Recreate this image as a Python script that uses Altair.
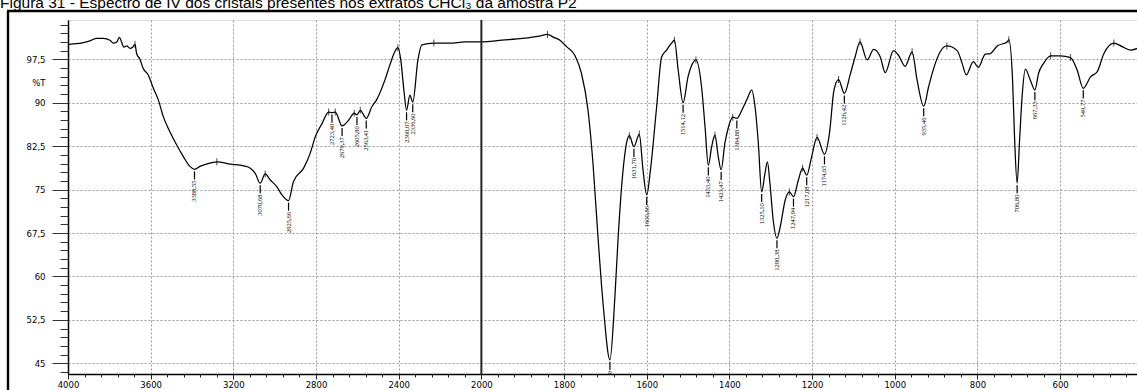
import altair as alt
import pandas as pd

# ---- spectrum (wavenumber cm-1, %T) ----
wavenumber = [
    3995, 3960, 3926, 3894, 3861, 3829, 3797, 3781, 3764, 3752, 3729, 3716, 3700, 3687, 3676,
    3668, 3652, 3636, 3612, 3587, 3563, 3539, 3507, 3474, 3442, 3410, 3388, 3362, 3330, 3280,
    3214, 3150, 3118, 3094, 3070, 3046, 3022, 2990, 2965, 2933, 2909, 2860, 2828, 2804, 2771,
    2739, 2723, 2707, 2674, 2642, 2615, 2602, 2586, 2557, 2530, 2507, 2467, 2443, 2419, 2404,
    2390, 2375, 2362, 2346, 2332, 2307, 2288, 2230, 2153, 2080, 2000,
    1950, 1900, 1860, 1840, 1825, 1810, 1794, 1774, 1758, 1742, 1730, 1718, 1705, 1689, 1677,
    1669, 1658, 1649, 1642, 1631, 1618, 1609, 1600, 1591, 1576, 1564, 1552, 1540, 1533, 1524,
    1512, 1500, 1491, 1481, 1467, 1459, 1451, 1443, 1435, 1427, 1420, 1411, 1403, 1392, 1382,
    1370, 1358, 1346, 1338, 1330, 1322, 1314, 1308, 1302, 1294, 1285, 1277, 1265, 1255, 1245,
    1233, 1223, 1213, 1201, 1188, 1170, 1158, 1147, 1136, 1122, 1108, 1096, 1084, 1067, 1051,
    1035, 1023, 1003, 991, 975, 958, 946, 930, 918, 906, 890, 874, 849, 837, 827,
    810, 798, 781, 769, 752, 728, 724, 715, 710, 704, 698, 692, 684, 672, 661,
    652, 640, 623, 599, 575, 559, 544, 526, 510, 494, 470, 450, 430, 413,
]
transmittance = [
    100.1, 100.2, 100.4, 100.7, 101.1, 101.1, 100.8, 100.3, 100.5, 101.3, 99.6, 99.8, 99.4, 99.6, 100.1,
    98.5, 97.5, 95.9, 94.8, 92.5, 90.5, 87.6, 85.0, 82.7, 80.7, 79.0, 78.5, 79.0, 79.4, 79.8,
    79.4, 79.1, 78.7, 77.8, 76.1, 77.7, 76.7, 75.5, 74.1, 73.1, 76.4, 78.7, 81.3, 84.1, 86.4,
    88.4, 88.3, 88.4, 86.0, 87.0, 88.2, 87.9, 88.7, 87.3, 89.3, 90.5, 93.9, 96.5, 98.8, 99.5,
    97.4, 92.2, 88.7, 91.3, 90.1, 97.4, 100.0, 100.3, 100.3, 100.5, 100.5,
    100.8, 101.1, 101.5, 101.8, 101.3, 100.8, 99.7, 98.2, 95.1, 88.7, 79.5, 66.9, 54.8, 45.6, 56.5,
    66.9, 77.8, 83.0, 84.3, 82.4, 84.6, 78.4, 74.1, 78.4, 89.3, 97.9, 99.1, 100.3, 100.8, 95.7,
    90.0, 94.5, 96.5, 97.4, 92.5, 85.9, 79.2, 82.4, 84.4, 80.7, 78.4, 83.0, 85.6, 87.5, 87.3,
    88.7, 90.5, 92.2, 89.3, 83.0, 74.6, 77.8, 79.8, 76.1, 69.7, 66.6, 68.6, 73.2, 74.6, 73.8,
    76.7, 78.7, 77.5, 80.7, 84.0, 81.1, 84.7, 92.2, 94.0, 91.6, 94.8, 97.9, 100.5, 97.4, 99.2,
    97.9, 95.2, 99.0, 98.2, 96.3, 98.8, 93.9, 89.4, 92.8, 95.9, 98.8, 99.8, 99.0, 96.8, 94.8,
    97.1, 96.1, 98.4, 98.5, 99.8, 100.5, 100.9, 93.9, 83.6, 76.1, 83.6, 91.0, 95.8, 93.9, 92.2,
    95.1, 96.8, 98.1, 98.1, 97.8, 95.7, 92.5, 94.5, 95.4, 98.5, 100.3, 99.7, 99.1, 99.4,
]

# ---- annotated minima (position on the curve, printed label) ----
min_wn = [3388, 3070, 2933, 2723, 2674, 2602, 2557, 2362, 2332,
          1689, 1631, 1600, 1512, 1451, 1420, 1382, 1322, 1285, 1245, 1213, 1170, 1122,
          930, 704, 661, 544]
min_text = ["3388,55", "3070,68", "2925,66", "2723,40", "2679,37", "2605,80", "2563,41", "2360,07", "2336,60",
            "1689,39", "1631,70", "1600,86", "1514,12", "1453,40", "1423,47", "1384,88", "1325,10", "1290,38",
            "1247,94", "1217,08", "1174,65", "1126,42", "935,46", "706,80", "667,33", "549,77"]

# ---- small marks on maxima ----
max_wn = [3676, 3280, 3046, 2739, 2707, 2615, 2586, 2404, 2230, 1840, 1642, 1618, 1533, 1481,
          1435, 1392, 1255, 1223, 1188, 1136, 1084, 958, 874, 724, 623, 575, 470]

# ---- axis break and tick labels ----
break_wn = [2000]
x_tick_labels_left = [4000, 3600, 3200, 2800, 2400, 2000]
x_tick_labels_right = [1800, 1600, 1400, 1200, 1000, 800, 600]
y_major = [45, 52.5, 60, 67.5, 75, 82.5, 90, 97.5]
y_minor = [43.5 + 1.5 * k for k in range(41)]

P_EXPR = "datum.wn >= 2000 ? (4000 - datum.wn) / 2 : 3000 - datum.wn"


def pos(v):
    return (4000 - v) / 2 if v >= 2000 else 3000 - v


x_major_vals = [pos(v) for v in x_tick_labels_left + x_tick_labels_right]
x_minor_vals = list(range(0, 2586, 40))
X_DOMAIN = [0, 2586]
Y_DOMAIN = [43.15, 104.29]

spec = pd.DataFrame({"wn": wavenumber, "T": transmittance})
mins = pd.DataFrame({"wn": min_wn, "label": min_text})
maxs = pd.DataFrame({"wn": max_wn})
brk = pd.DataFrame({"wn": break_wn})

FONT = "DejaVu Sans"
xscale = alt.Scale(domain=X_DOMAIN, nice=False, zero=False)
yscale = alt.Scale(domain=Y_DOMAIN, nice=False, zero=False)

x_main_axis = alt.Axis(
    orient="bottom", values=x_major_vals, title=None,
    labelExpr="datum.value <= 1000 ? format(4000 - 2*datum.value, 'd') : format(3000 - datum.value, 'd')",
    tickSize=5, tickColor="#222", labelFont=FONT, labelFontSize=8.5, labelColor="#000",
    labelPadding=1, grid=True, gridColor="#9a9a9a", gridDash=[2, 2], gridWidth=1,
    domain=True, domainColor="#000", domainWidth=1.5, labelFlush=False,
)
y_main_axis = alt.Axis(
    orient="left", values=y_major, title="%T", titleAngle=0, titleX=-23, titleY=62,
    titleAlign="right", titleBaseline="middle", titleFont=FONT, titleFontSize=8.5,
    titleFontWeight="normal", titleColor="#000",
    labelExpr="replace(format(datum.value, '.1~f'), '.', ',')",
    tickSize=16, tickColor="#333", labelFont=FONT, labelFontSize=8.5, labelColor="#000",
    labelPadding=7, grid=True, gridColor="#9a9a9a", gridDash=[2, 2], gridWidth=1,
    domain=True, domainColor="#000", domainWidth=1.5,
)
x_minor_axis = alt.Axis(orient="bottom", values=x_minor_vals, labels=False, title=None,
                        tickSize=3, tickColor="#222", grid=False, domain=False)
y_minor_axis = alt.Axis(orient="left", values=y_minor, labels=False, title=None,
                        tickSize=8, tickColor="#333", grid=False, domain=False)

base = alt.Chart(spec).transform_calculate(p=P_EXPR)

line = base.mark_line(color="#000", strokeWidth=1.25, interpolate="monotone").encode(
    x=alt.X("p:Q", scale=xscale, axis=x_main_axis),
    y=alt.Y("T:Q", scale=yscale, axis=y_main_axis),
)
minor = base.mark_line(opacity=0).encode(
    x=alt.X("p:Q", scale=xscale, axis=x_minor_axis),
    y=alt.Y("T:Q", scale=yscale, axis=y_minor_axis),
)

break_rule = alt.Chart(brk).transform_calculate(p=P_EXPR).mark_rule(
    color="#222", strokeWidth=2
).encode(x=alt.X("p:Q", scale=xscale, axis=None))

lookup = alt.LookupData(data=spec, key="wn", fields=["T"])

max_ticks = alt.Chart(maxs).transform_lookup(lookup="wn", from_=lookup).transform_calculate(
    p=P_EXPR
).mark_tick(orient="vertical", size=7, thickness=1, color="#000").encode(
    x=alt.X("p:Q", scale=xscale, axis=None),
    y=alt.Y("T:Q", scale=yscale, axis=None),
)

min_base = alt.Chart(mins).transform_lookup(lookup="wn", from_=lookup).transform_calculate(
    p=P_EXPR, y1="datum.T - 0.35", y2="datum.T - 1.75", yt="datum.T - 1.95"
)
connectors = min_base.mark_rule(color="#000", strokeWidth=1.2, clip=True).encode(
    x=alt.X("p:Q", scale=xscale, axis=None),
    y=alt.Y("y1:Q", scale=yscale, axis=None),
    y2="y2:Q",
)
labels = min_base.mark_text(
    angle=270, align="right", baseline="middle", font="Liberation Sans Narrow",
    fontSize=6.5, color="#000", clip=True,
).encode(
    x=alt.X("p:Q", scale=xscale, axis=None),
    y=alt.Y("yt:Q", scale=yscale, axis=None),
    text="label:N",
)

dummy = pd.DataFrame({"a": [0]})
frame_left = alt.Chart(dummy).mark_rule(color="#000", strokeWidth=2.4).encode(
    x=alt.value(-60), y=alt.value(-9), y2=alt.value(372)
)
frame_top = alt.Chart(dummy).mark_rule(color="#000", strokeWidth=2.4).encode(
    x=alt.value(-61), x2=alt.value(1075), y=alt.value(-9)
)

chart = alt.layer(
    line, minor, break_rule, max_ticks, connectors, labels, frame_left, frame_top
).resolve_axis(x="independent", y="independent").properties(
    width=1069,
    height=354,
    autosize=alt.AutoSizeParams(type="none"),
    padding={"left": 68, "top": 20, "right": 0, "bottom": 16},
    title=alt.Title(
        "Figura 31 - Espectro de IV dos cristais presentes nos extratos CHCl₃ da amostra P2",
        anchor="start", frame="group", dx=-68, dy=15, offset=1, fontSize=15.5,
        font="Liberation Sans", fontWeight="normal", color="#000", baseline="alphabetic",
    ),
).configure_view(stroke=None).configure(background="white")

chart.save("out.html", embed_options={"renderer": "svg", "actions": False})
